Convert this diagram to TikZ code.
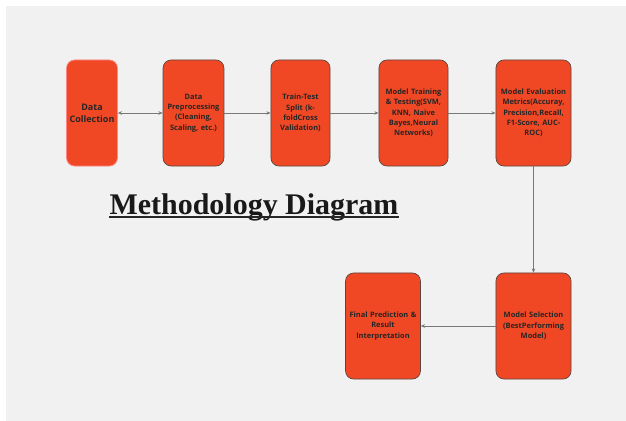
\documentclass[tikz,border=0pt]{standalone}
\usepackage{fontspec}
\setmainfont{Liberation Serif}
\newfontfamily\boxfont{Open Sans}
\usetikzlibrary{arrows.meta}

\definecolor{panelgray}{RGB}{241,241,241}
\definecolor{boxred}{RGB}{240,72,36}
\definecolor{boxline}{RGB}{90,70,65}
\definecolor{linkgray}{RGB}{120,120,120}

\tikzset{
    stagebox/.style={draw=boxline, line width=0.5pt, fill=boxred, rounded corners=0.2cm,
        minimum height=2.65cm, inner sep=1pt, align=center,
        font=\boxfont\bfseries\fontsize{5.3}{7.3}\selectfont, text=black!85},
    link/.style={draw=linkgray, line width=0.5pt, -{Stealth[length=3pt,width=2.5pt]}}
}

\begin{document}
\begin{tikzpicture}[x=0.025cm, y=-0.025cm]
    % page and grey panel
        \useasboundingbox (0,0) rectangle (626,421);
        \fill[white] (0,0) rectangle (626,421);
        \fill[panelgray] (6,6) rectangle (626,421);
    % Below nodes are the stages, top row first.
        \node[stagebox, minimum width=1.25cm, text width=1.2cm, draw=pink!70!red,
            font=\boxfont\bfseries\fontsize{6.4}{8.6}\selectfont] (collect) at (92,113) {Data\\Collection};
        \node[stagebox, minimum width=1.475cm, text width=1.45cm] (prep) at (193.5,113)
            {Data\\Preprocessing\\(Cleaning,\\Scaling, etc.)};
        \node[stagebox, minimum width=1.475cm, text width=1.3cm] (split) at (300.5,113)
            {Train-Test\\Split (k-\\foldCross\\Validation)};
        \node[stagebox, minimum width=1.725cm, text width=1.65cm] (train) at (413.5,113)
            {Model Training\\\& Testing(SVM,\\KNN, Naive\\Bayes,Neural\\Networks)};
        \node[stagebox, minimum width=1.875cm, text width=1.8cm] (eval) at (533.5,113)
            {Model Evaluation\\Metrics(Accuray,\\Precision,Recall,\\F1-Score, AUC-\\ROC)};
        \node[stagebox, minimum width=1.875cm, text width=1.8cm] (select) at (533.5,326)
            {Model Selection\\(BestPerforming\\Model)};
        \node[stagebox, minimum width=1.85cm, text width=1.8cm] (final) at (383,326)
            {Final Prediction \&\\Result\\Interpretation};
    % The title.
        \node[font=\bfseries\fontsize{21.3}{25}\selectfont, text=black!90, inner sep=0pt] (title) at (254,207)
            {Methodology Diagram};
        \draw[black!85, line width=1.5pt] ([yshift=-2pt]title.base west) -- ([yshift=-2pt]title.base east);
    % This draws the connectors.
        \draw[link, {Stealth[length=3pt,width=2.5pt]}-{Stealth[length=3pt,width=2.5pt]}] (collect) -- (prep);
        \draw[link] (prep) -- (split);
        \draw[link] (split) -- (train);
        \draw[link] (train) -- (eval);
        \draw[link] (eval) -- (select);
        \draw[link] (select) -- (final);
    \end{tikzpicture}
\end{document}
